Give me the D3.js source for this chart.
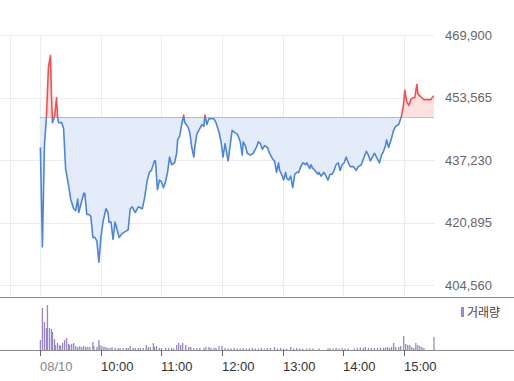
<!DOCTYPE html>
<html>
<head>
<meta charset="utf-8">
<script src="https://cdn.jsdelivr.net/npm/d3@7"></script>
<style>
  html, body { margin: 0; padding: 0; background: #fff; }
  svg { display: block; }
  text { font-family: "Liberation Sans", Arial, sans-serif; }
</style>
</head>
<body>
<div id="chart"></div>
<script>
// 가격 축 눈금
var yTicks = [404560, 420895, 437230, 453565, 469900];
var prevClose = 448500;

// x축 눈금 / 라벨
var gridTimes = ['08:30', '09:00', '10:00', '11:00', '12:00', '13:00', '14:00', '15:00'];
var tickTimes = ['09:00', '10:00', '11:00', '12:00', '13:00', '14:00', '15:00'];
var tickLabels = ['08/10', '10:00', '11:00', '12:00', '13:00', '14:00', '15:00'];

// 분봉 가격
var priceTimes = [
  '09:00', '09:02', '09:04', '09:06', '09:08', '09:10', '09:11', '09:12', '09:14', '09:16',
  '09:17', '09:18', '09:21', '09:23', '09:25', '09:28', '09:30', '09:33', '09:35', '09:37',
  '09:38', '09:41', '09:43', '09:44', '09:46', '09:48', '09:50', '09:52', '09:54', '09:56',
  '09:58', '10:00', '10:02', '10:05', '10:07', '10:08', '10:10', '10:12', '10:14', '10:16',
  '10:18', '10:21', '10:24', '10:27', '10:29', '10:31', '10:34', '10:37', '10:41', '10:43',
  '10:46', '10:48', '10:50', '10:53', '10:54', '10:56', '10:58', '11:00', '11:02', '11:04',
  '11:06', '11:08', '11:10', '11:13', '11:15', '11:16', '11:18', '11:20', '11:22', '11:23',
  '11:26', '11:28', '11:30', '11:32', '11:33', '11:35', '11:37', '11:40', '11:42', '11:43',
  '11:45', '11:47', '11:50', '11:52', '11:54', '11:57', '11:59', '12:01', '12:03', '12:04',
  '12:06', '12:08', '12:10', '12:12', '12:15', '12:16', '12:18', '12:20', '12:21', '12:23',
  '12:25', '12:28', '12:31', '12:34', '12:36', '12:38', '12:40', '12:42', '12:45', '12:47',
  '12:50', '12:52', '12:54', '12:56', '12:57', '12:59', '13:01', '13:03', '13:04', '13:06',
  '13:08', '13:10', '13:12', '13:14', '13:16', '13:18', '13:20', '13:23', '13:24', '13:27',
  '13:28', '13:30', '13:32', '13:35', '13:36', '13:38', '13:41', '13:43', '13:45', '13:47',
  '13:49', '13:51', '13:53', '13:55', '13:57', '13:59', '14:01', '14:03', '14:05', '14:07',
  '14:10', '14:13', '14:15', '14:18', '14:20', '14:23', '14:25', '14:27', '14:29', '14:31',
  '14:33', '14:36', '14:38', '14:40', '14:42', '14:43', '14:45', '14:48', '14:50', '14:52',
  '14:55', '14:57', '14:58', '15:00', '15:01', '15:03', '15:05', '15:07', '15:09', '15:11',
  '15:13', '15:14', '15:16', '15:18', '15:20', '15:27', '15:28', '15:30'
];
var priceValues = [
  440500, 414500, 441000, 448500, 461500, 464500, 454000, 447000, 448500, 453500,
  448500, 447000, 447000, 445500, 435000, 430500, 427000, 424500, 424000, 427000,
  423500, 426500, 428500, 428500, 423000, 423000, 422500, 417000, 417000, 416000,
  410500, 417000, 421000, 424500, 423500, 421000, 421000, 416500, 421000, 419000,
  417000, 418000, 418500, 419000, 424500, 425000, 423500, 425000, 424500, 427000,
  432000, 434000, 434500, 437000, 437000, 429500, 432000, 431500, 430000, 431500,
  434000, 438000, 436000, 436500, 439000, 442500, 443500, 446500, 449000, 447000,
  446000, 444500, 440500, 438000, 440500, 444000, 445000, 446500, 446000, 449000,
  446500, 448000, 448000, 448000, 447000, 444500, 442000, 438000, 441500, 440000,
  437000, 441000, 445000, 444500, 444000, 443500, 442000, 438500, 442000, 441000,
  439000, 438500, 439000, 440500, 442000, 441500, 440000, 441000, 440500, 439000,
  437500, 437000, 434000, 436500, 434500, 433500, 432000, 434000, 432500, 432000,
  433000, 430000, 433500, 434000, 434000, 435500, 436500, 436000, 436500, 435000,
  436000, 435000, 434500, 433500, 434000, 433000, 434000, 433000, 432000, 433500,
  433500, 434500, 436000, 436500, 434500, 436000, 436500, 438000, 436500, 435500,
  435500, 434500, 435500, 436000, 437500, 439500, 438500, 437000, 438000, 439000,
  438000, 436500, 438500, 439500, 441000, 442500, 440500, 443000, 445000, 446000,
  446500, 448000, 449000, 452000, 455500, 452500, 451500, 453000, 453500, 453500,
  457000, 454500, 454000, 453500, 453000, 453000, 453500, 454000
];

// 거래량 (천 주)
var volTimes = [
  '09:00', '09:02', '09:04', '09:06', '09:07', '09:09', '09:11', '09:12', '09:14', '09:15',
  '09:17', '09:19', '09:20', '09:22', '09:24', '09:26', '09:28', '09:29', '09:31', '09:33',
  '09:35', '09:37', '09:39', '09:41', '09:43', '09:45', '09:47', '09:49', '09:52', '09:53',
  '09:56', '09:58', '09:59', '10:01', '10:03', '10:05', '10:07', '10:09', '10:11', '10:14',
  '10:17', '10:19', '10:22', '10:25', '10:27', '10:29', '10:32', '10:34', '10:37', '10:39',
  '10:42', '10:45', '10:47', '10:49', '10:52', '10:53', '10:55', '10:58', '11:00', '11:04',
  '11:07', '11:10', '11:12', '11:15', '11:17', '11:19', '11:21', '11:24', '11:27', '11:29',
  '11:32', '11:35', '11:38', '11:42', '11:44', '11:47', '11:49', '11:52', '11:54', '11:57',
  '12:00', '12:03', '12:06', '12:09', '12:12', '12:15', '12:18', '12:21', '12:24', '12:27',
  '12:30', '12:33', '12:36', '12:39', '12:42', '12:45', '12:48', '12:52', '12:55', '12:58',
  '13:01', '13:04', '13:08', '13:11', '13:14', '13:17', '13:20', '13:24', '13:27', '13:30',
  '13:36', '13:45', '13:47', '13:50', '13:53', '13:56', '13:59', '14:02', '14:05', '14:11',
  '14:14', '14:17', '14:20', '14:22', '14:25', '14:28', '14:31', '14:34', '14:37', '14:40',
  '14:42', '14:44', '14:46', '14:48', '14:50', '14:52', '14:55', '14:57', '15:00', '15:02',
  '15:04', '15:06', '15:08', '15:10', '15:12', '15:14', '15:16', '15:18', '15:20', '15:30'
];
var volValues = [
  10, 42, 28, 22, 45, 22, 21, 18, 11, 5,
  7, 5, 4, 7, 10, 12, 6, 5, 6, 7,
  4, 3, 4, 3, 4, 3, 3, 3, 8, 4,
  3, 10, 5, 4, 3, 3, 2, 2, 3, 2,
  2, 2, 2, 2, 2, 4, 2, 2, 2, 2,
  2, 5, 3, 3, 7, 3, 4, 2, 2, 2,
  2, 2, 1.5, 5, 7, 5, 7, 5, 3, 3,
  2, 2, 2, 2, 3, 3, 2, 2, 2, 4,
  4, 2, 1.5, 1.5, 2, 1.5, 1.5, 2, 1.5, 1.5,
  2, 1.5, 1.5, 2, 1.5, 2, 2, 3, 1.5, 2,
  1.5, 1.5, 3, 1.5, 2, 1.5, 1.5, 1.5, 1.5, 1.5,
  1.5, 1.5, 2, 1.5, 2, 1.5, 2, 1.5, 1.5, 1.5,
  2, 2.5, 2, 3, 2, 2, 2, 2, 2.5, 2,
  2.5, 3, 2, 3, 7, 3, 3, 4, 14, 6,
  5, 5, 3, 2, 7, 5, 4, 3, 2, 13
];

var W = 514, H = 381;
var plotRight = 434;
var parse = d3.timeParse('%H:%M');

var x = d3.scaleTime()
  .domain([parse('08:20'), parse('15:30')])
  .range([0, plotRight]);
var y = d3.scaleLinear()
  .domain([yTicks[0], yTicks[yTicks.length - 1]])
  .range([285, 35]);
var yv = d3.scaleLinear().domain([0, 45]).range([350, 305]);

var prices = priceTimes.map(function (t, i) { return { t: parse(t), v: priceValues[i] }; });
var vols = volTimes.map(function (t, i) { return { t: parse(t), v: volValues[i] }; });

var svg = d3.select('#chart').append('svg')
  .attr('width', W).attr('height', H);

var defs = svg.append('defs');
var yBase = y(prevClose);
defs.append('clipPath').attr('id', 'clip-up')
  .append('rect').attr('x', 0).attr('y', 0).attr('width', plotRight).attr('height', yBase);
defs.append('clipPath').attr('id', 'clip-down')
  .append('rect').attr('x', 0).attr('y', yBase).attr('width', plotRight).attr('height', H - yBase);

// 그리드
svg.append('g').selectAll('line').data(yTicks).enter().append('line')
  .attr('x1', 0).attr('x2', plotRight)
  .attr('y1', function (d) { return Math.round(y(d)) + 0.5; })
  .attr('y2', function (d) { return Math.round(y(d)) + 0.5; })
  .attr('stroke', '#ececec');
svg.append('g').selectAll('line').data(gridTimes).enter().append('line')
  .attr('x1', function (d) { return Math.round(x(parse(d))) + 0.5; })
  .attr('x2', function (d) { return Math.round(x(parse(d))) + 0.5; })
  .attr('y1', y(yTicks[yTicks.length - 1])).attr('y2', 297)
  .attr('stroke', '#ececec');

// 면적
var area = d3.area()
  .x(function (d) { return x(d.t); })
  .y0(yBase)
  .y1(function (d) { return y(d.v); });
svg.append('path').datum(prices).attr('d', area)
  .attr('fill', '#e4ecf9').attr('clip-path', 'url(#clip-down)');
svg.append('path').datum(prices).attr('d', area)
  .attr('fill', '#fde1e1').attr('clip-path', 'url(#clip-up)');

// 전일 종가 점선
svg.append('line')
  .attr('x1', x(parse('09:00'))).attr('x2', plotRight)
  .attr('y1', Math.round(yBase) + 0.5).attr('y2', Math.round(yBase) + 0.5)
  .attr('stroke', '#888').attr('stroke-dasharray', '1,1');

// 가격선
var line = d3.line()
  .x(function (d) { return x(d.t); })
  .y(function (d) { return y(d.v); });
svg.append('path').datum(prices).attr('d', line)
  .attr('fill', 'none').attr('stroke', '#4a86e0').attr('stroke-width', 1.6)
  .attr('stroke-linejoin', 'round').attr('clip-path', 'url(#clip-down)');
svg.append('path').datum(prices).attr('d', line)
  .attr('fill', 'none').attr('stroke', '#ff4b4b').attr('stroke-width', 1.6)
  .attr('stroke-linejoin', 'round').attr('clip-path', 'url(#clip-up)');

// 가격 라벨
svg.append('g').selectAll('text').data(yTicks).enter().append('text')
  .attr('x', 445).attr('y', function (d) { return y(d); })
  .attr('dy', '0.35em')
  .attr('fill', '#666').style('font-size', '13px')
  .text(function (d) { return d3.format(',')(d); });

// 패널 구분선
svg.append('line').attr('x1', 0).attr('x2', W).attr('y1', 297.5).attr('y2', 297.5)
  .attr('stroke', '#8c8c8c').attr('stroke-width', 1.2);

// 거래량
svg.append('g').selectAll('rect').data(vols).enter().append('rect')
  .attr('x', function (d) { return x(d.t) - 0.65; })
  .attr('width', 1.3)
  .attr('y', function (d) { return yv(d.v); })
  .attr('height', function (d) { return yv(0) - yv(d.v); })
  .attr('fill', '#9a84cf');

svg.append('line').attr('x1', 0).attr('x2', W).attr('y1', 350.5).attr('y2', 350.5)
  .attr('stroke', '#8c8c8c');

// x축
var xt = svg.append('g');
xt.selectAll('line').data(tickTimes).enter().append('line')
  .attr('x1', function (d) { return Math.round(x(parse(d))) + 0.5; })
  .attr('x2', function (d) { return Math.round(x(parse(d))) + 0.5; })
  .attr('y1', 350).attr('y2', 356)
  .attr('stroke', '#666');
xt.selectAll('text').data(tickTimes).enter().append('text')
  .attr('x', function (d) { return Math.round(x(parse(d))); })
  .attr('y', 371)
  .attr('fill', function (d, i) { return i === 0 ? '#888' : '#333'; })
  .style('font-size', '13px')
  .text(function (d, i) { return tickLabels[i]; });

// 범례
svg.append('rect').attr('x', 461).attr('y', 307).attr('width', 3).attr('height', 10)
  .attr('fill', '#9a84cf');
svg.append('text').attr('x', 467).attr('y', 317)
  .attr('fill', '#444')
  .style('font-family', '"Noto Sans CJK KR", sans-serif').style('font-size', '12px')
  .text('거래량');
</script>
</body>
</html>
